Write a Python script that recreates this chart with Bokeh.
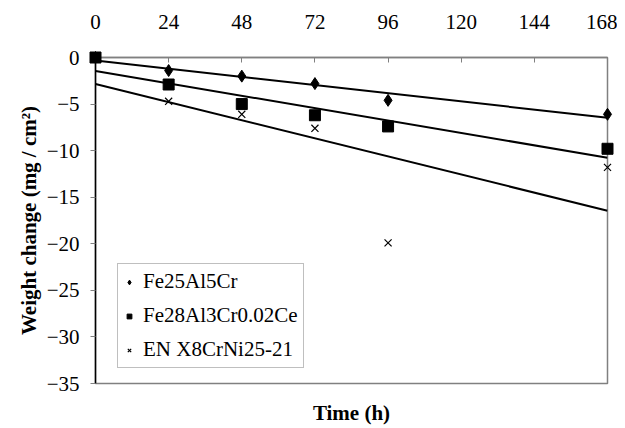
import numpy as np
from bokeh.plotting import figure
from bokeh.models import LinearAxis, FixedTicker, Range1d, Legend, LegendItem
from bokeh.embed import file_html
from bokeh.resources import INLINE

hours = [0, 24, 48, 72, 96, 168]
fe25 = [0, -1.4, -2.0, -2.8, -4.6, -6.1]
fe28 = [0, -2.9, -5.0, -6.2, -7.4, -9.8]
en_x8 = [0, -4.7, -6.1, -7.6, -19.9, -11.8]
names = ["Fe25Al5Cr", "Fe28Al3Cr0.02Ce", "EN X8CrNi25-21"]
x_ticks = [0, 24, 48, 72, 96, 120, 144, 168]
y_ticks = [0, -5, -10, -15, -20, -25, -30, -35]

FONT = "Liberation Serif"
FS = "21px"

p = figure(width=617, height=428, output_backend="svg", toolbar_location=None,
           x_range=Range1d(0, 168), y_range=Range1d(-35, 0),
           x_axis_location=None, y_axis_location=None,
           min_border_left=95, min_border_right=10, min_border_top=57, min_border_bottom=45)
p.grid.visible = False
p.outline_line_color = "#808080"
p.outline_line_width = 1.5
p.background_fill_color = "white"
p.border_fill_color = "white"

# top axis
top = LinearAxis(ticker=FixedTicker(ticks=x_ticks))
top.major_tick_in = 5
top.major_tick_out = 0
top.minor_tick_line_color = None
top.major_tick_line_color = "#808080"
top.axis_line_color = "#808080"
top.axis_line_width = 1.5
top.major_label_standoff = 29
top.major_label_text_font = FONT
top.major_label_text_font_size = FS
top.major_label_text_color = "black"
p.add_layout(top, "above")

# bottom axis: only title
bot = LinearAxis(ticker=FixedTicker(ticks=[]))
bot.axis_line_color = None
bot.major_tick_line_color = None
bot.minor_tick_line_color = None
bot.major_label_text_font_size = "1px"
bot.axis_label = "Time (h)"
bot.axis_label_text_font = FONT
bot.axis_label_text_font_size = FS
bot.axis_label_text_font_style = "bold"
bot.axis_label_text_color = "black"
bot.axis_label_standoff = 17
p.add_layout(bot, "below")

# left axis
left = LinearAxis(ticker=FixedTicker(ticks=y_ticks))
left.major_tick_in = 0
left.major_tick_out = 5
left.minor_tick_line_color = None
left.major_tick_line_color = "#808080"
left.axis_line_color = "black"
left.axis_line_width = 1.5
left.major_label_standoff = 11
left.major_label_text_font = FONT
left.major_label_text_font_size = FS
left.major_label_text_color = "black"
left.axis_label = "Weight change (mg / cm²)"
left.axis_label_text_font = FONT
left.axis_label_text_font_size = FS
left.axis_label_text_font_style = "bold"
left.axis_label_text_color = "black"
left.axis_label_standoff = 3
p.add_layout(left, "left")

# trend lines (least squares fits of the data)
xs_line = np.array([0, 168])
for series in (fe25, fe28, en_x8):
    k, b = np.polyfit(hours, series, 1)
    p.line(xs_line, k * xs_line + b, line_color="black", line_width=2)

r1 = p.scatter(hours, fe25, marker="diamond", size=12, fill_color="black", line_color="black", level="overlay")
r2 = p.scatter(hours, fe28, marker="square", size=11, fill_color="black", line_color="black", level="overlay")
r3 = p.scatter(hours, en_x8, marker="x", size=10, line_color="black", line_width=1.2, level="overlay")

legend = Legend(items=[LegendItem(label=names[0], renderers=[r1]),
                       LegendItem(label=names[1], renderers=[r2]),
                       LegendItem(label=names[2], renderers=[r3])],
                location=(22, 15))
legend.label_text_font = FONT
legend.label_text_font_size = "21px"
legend.label_text_color = "black"
legend.border_line_color = "#808080"
legend.border_line_width = 1
legend.glyph_width = 12
legend.glyph_height = 24
legend.label_standoff = 8
legend.spacing = 9
legend.padding = 5
legend.margin = 0
legend.label_height = 24
p.add_layout(legend, "center")

open("out.html", "w").write(file_html(p, INLINE))
